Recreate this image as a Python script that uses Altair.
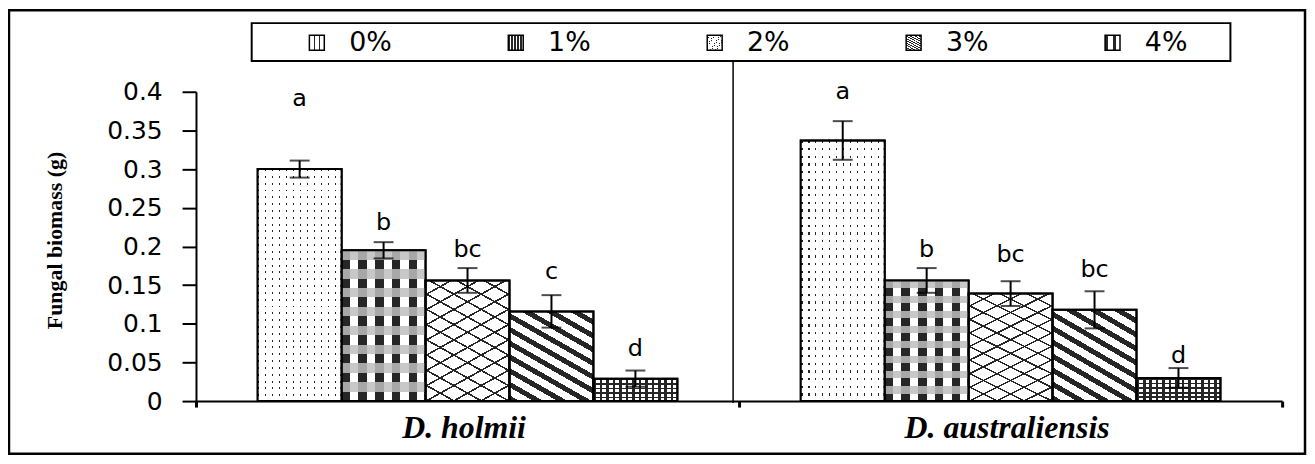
import json
import math

import altair as alt
import pandas as pd

# ---------------- data ----------------
groups = ["D. holmii", "D. australiensis"]
concs = ["0%", "1%", "2%", "3%", "4%"]
mean_holmii = [0.300, 0.195, 0.156, 0.116, 0.029]
mean_austr = [0.337, 0.156, 0.139, 0.118, 0.030]
se_holmii = [0.011, 0.0105, 0.016, 0.021, 0.0105]
se_austr = [0.025, 0.016, 0.016, 0.024, 0.0127]
letters_holmii = ["a", "b", "bc", "c", "d"]
letters_austr = ["a", "b", "bc", "bc", "d"]
letter_y_holmii = [0.391, 0.230, 0.1955, 0.167, 0.067]
letter_y_austr = [0.399, 0.1955, 0.189, 0.170, 0.058]
y_ticks = [0, 0.05, 0.1, 0.15, 0.2, 0.25, 0.3, 0.35, 0.4]
y_title = "Fungal biomass (g)"

rows = []
for g, ms, ss, ls, lys in [
    (groups[0], mean_holmii, se_holmii, letters_holmii, letter_y_holmii),
    (groups[1], mean_austr, se_austr, letters_austr, letter_y_austr),
]:
    for c, m, s, l, ly in zip(concs, ms, ss, ls, lys):
        rows.append(dict(group=g, conc=c, mean=m, se=s, letter=l, letter_y=ly))
df = pd.DataFrame(rows)
one = pd.DataFrame({"k": [0]})

# ---------------- hatch patterns built from linear gradients ----------------
DARK = "#262626"
WHITE = "#ffffff"
CLEAR = "rgba(255,255,255,0)"


def band_stops(n, frac, c_on, c_off):
    st = []
    for i in range(n):
        a, b, c = i / n, (i + frac) / n, (i + 1) / n
        st += [(a, c_on), (b, c_on), (b, c_off), (c, c_off)]
    return st


def grad(coords, stops):
    x1, y1, x2, y2 = coords
    return {
        "gradient": "linear",
        "x1": round(x1, 4), "y1": round(y1, 4), "x2": round(x2, 4), "y2": round(y2, 4),
        "stops": [{"offset": round(o, 4), "color": c} for o, c in stops],
    }


def diag(theta, w, h):
    t = math.radians(theta)
    du = (math.cos(t) / w, math.sin(t) / h)
    g = (du[1], -du[0])
    gg = g[0] ** 2 + g[1] ** 2
    corners = [(0, 0), (1, 0), (0, 1), (1, 1)]
    ps = [(cx * g[0] + cy * g[1]) / gg for cx, cy in corners]
    pmin, pmax = min(ps), max(ps)
    pix = [cx * w * (-math.sin(t)) + cy * h * math.cos(t) for cx, cy in corners]
    span = max(pix) - min(pix)
    return (pmin * g[0], pmin * g[1], pmax * g[0], pmax * g[1]), span


VERT = (0, 0, 1, 0)
HORZ = (0, 0, 0, 1)
d2a, L2 = diag(28, 84, 115)
d2b, _ = diag(-28, 84, 115)
d3, L3 = diag(30, 84, 91)

base_fills = [
    grad(VERT, band_stops(12, 0.25, DARK, WHITE)),
    grad(VERT, band_stops(5, 0.5, DARK, WHITE)),
    grad(d2a, band_stops(round(L2 / 13.2), 0.12, DARK, WHITE)),
    grad(d3, band_stops(round(L3 / 12), 0.42, DARK, WHITE)),
    grad(VERT, band_stops(13, 0.4, DARK, WHITE)),
]
overlay_fills = {
    "0%": grad(HORZ, band_stops(34, 0.28, CLEAR, WHITE)),
    "1%": grad(HORZ, band_stops(8, 0.5, "rgba(190,190,190,0.85)", CLEAR)),
    "2%": grad(d2b, band_stops(round(L2 / 13.2), 0.12, DARK, CLEAR)),
    "4%": grad(HORZ, band_stops(5, 0.4, DARK, CLEAR)),
}

# ---------------- scales / axes ----------------
x_axis = alt.Axis(
    title=None, labelAngle=0, tickBand="extent", tickSize=6, tickWidth=3,
    domainWidth=2, labelFont="Liberation Serif", labelFontSize=32,
    labelFontWeight="bold", labelFontStyle="italic", labelPadding=6,
    labelLimit=0, labelOffset=-4,
    labelColor="black", domainColor="black", tickColor="black",
)
y_axis = alt.Axis(
    title=y_title, values=y_ticks, format="~g", tickSize=14, tickWidth=2,
    domainWidth=2, labelPadding=20, labelFont="DejaVu Sans", labelFontSize=25,
    labelColor="black", domainColor="black", tickColor="black", grid=False,
    titleFont="Liberation Serif", titleFontSize=22, titleFontWeight="bold",
    titleColor="black", titleAngle=-90, titleX=-130, titleY=149,
    titleBaseline="bottom", titleAlign="center",
)
X = alt.X("group:N", scale=alt.Scale(domain=groups, paddingInner=0, paddingOuter=0), axis=x_axis)
XO = alt.XOffset("conc:N", scale=alt.Scale(domain=concs, paddingInner=0, paddingOuter=0.735))
YS = alt.Scale(domain=[0, 0.4], nice=False)

base = alt.Chart(df)

bars = base.mark_bar(stroke="black", strokeWidth=2).encode(
    x=X, xOffset=XO, y=alt.Y("mean:Q", scale=YS, axis=y_axis),
    fill=alt.Fill(
        "conc:N",
        scale=alt.Scale(domain=concs, range=[{"expr": json.dumps(f)} for f in base_fills]),
        legend=alt.Legend(
            title=None, orient="none", legendX=108, legendY=-63,
            direction="horizontal", columns=5, columnPadding=111, padding=0,
            symbolType="square", symbolSize=225, symbolStrokeColor="black",
            symbolStrokeWidth=1.5, labelFont="DejaVu Sans", labelFontSize=27,
            labelColor="black", labelOffset=19,
        ),
    ),
)

overlays = [
    base.transform_filter(alt.datum.conc == c).mark_bar(fill=f, strokeWidth=0).encode(
        x=X, xOffset=XO, y=alt.Y("mean:Q", scale=YS, axis=y_axis)
    )
    for c, f in overlay_fills.items()
]

outline = base.mark_bar(fillOpacity=0, stroke="black", strokeWidth=2).encode(
    x=X, xOffset=XO, y=alt.Y("mean:Q", scale=YS, axis=y_axis)
)

err = base.transform_calculate(
    lo="datum.mean - datum.se", hi="datum.mean + datum.se"
)
err_rule = err.mark_rule(color="black", strokeWidth=2).encode(
    x=X, xOffset=XO, y=alt.Y("lo:Q", scale=YS, axis=y_axis), y2="hi:Q"
)
caps = err.transform_fold(["lo", "hi"], as_=["end", "yv"]).mark_tick(
    orient="horizontal", size=20, thickness=2, color="black"
).encode(x=X, xOffset=XO, y=alt.Y("yv:Q", scale=YS, axis=y_axis))

letters = base.mark_text(
    font="DejaVu Sans", fontSize=24, baseline="middle", color="black"
).encode(x=X, xOffset=XO, y=alt.Y("letter_y:Q", scale=YS, axis=y_axis), text="letter:N")

# ---------------- decorations (frame, legend box, divider) ----------------
deco = alt.Chart(one)
frame = deco.mark_rect(fillOpacity=0, stroke="black", strokeWidth=2.5).encode(
    x=alt.value(-188), x2=alt.value(1115), y=alt.value(-82), y2=alt.value(364)
)
legend_box = deco.mark_rect(fillOpacity=0, stroke="black", strokeWidth=2).encode(
    x=alt.value(56), x2=alt.value(1040), y=alt.value(-69), y2=alt.value(-31)
)
divider = deco.mark_rule(color="black", strokeWidth=1.5).encode(
    x=alt.value(540), y=alt.value(-31), y2=alt.value(313)
)

chart = alt.layer(
    frame, legend_box, divider, bars, *overlays, outline, err_rule, caps, letters
).properties(
    width=1092, height=311,
    autosize=alt.AutoSizeParams(type="none"),
    padding={"left": 189, "top": 83, "right": 25, "bottom": 54},
    background="white",
).configure_view(strokeWidth=0)

chart.save("out.html", embed_options={"renderer": "svg", "actions": False})
